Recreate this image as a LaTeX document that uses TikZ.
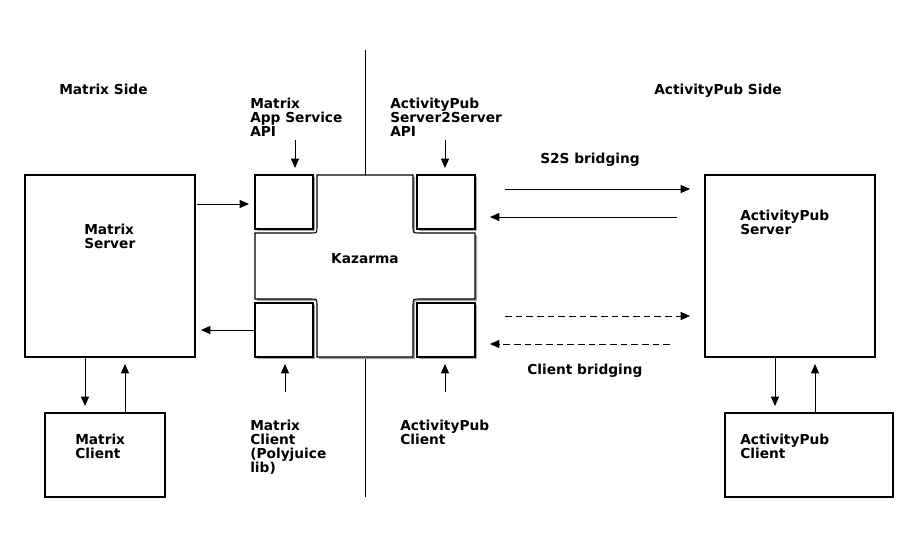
\documentclass[tikz,border=0pt]{standalone}
\usepackage{fontspec}
\setmainfont{DejaVu Sans}
\usetikzlibrary{arrows.meta}
\begin{document}
\begin{tikzpicture}[x=0.75pt,y=-0.75pt,
  box/.style={draw,fill=white,line width=0.8pt},
  arr/.style={-{Triangle[length=7pt,width=6pt]},line width=0.7pt},
  txt/.style={font=\fontsize{10.3}{10.5}\selectfont\bfseries,align=left,inner sep=0pt}]
\useasboundingbox (0,0) rectangle (900,546);
\fill[white] (0,0) rectangle (900,546);
\draw[line width=0.7pt] (365,50) -- (365,497);
% boxes
\draw[box] (25,175) rectangle (195,357);
\draw[box] (45,413) rectangle (165,497);
\draw[box] (705,175) rectangle (875,357);
\draw[box] (725,413) rectangle (893,497);
% cross
\def\crosspath{(317,175) -- (413,175) -- (413,227) .. controls (413,233) .. (419,233) -- (475,233) -- (475,299) -- (419,299) .. controls (413,299) .. (413,305) -- (413,357) -- (317,357) -- (317,305) .. controls (317,299) .. (311,299) -- (255,299) -- (255,233) -- (311,233) .. controls (317,233) .. (317,227) -- cycle}
\fill[gray!70,shift={(2,2)}] \crosspath;
\draw[box] \crosspath;
\foreach \x/\y in {255/175,417/175,255/303,417/303}{
  \fill[gray!70] (\x+2,\y+2) rectangle (\x+60,\y+56);
  \draw[box] (\x,\y) rectangle (\x+58,\y+54);}
\node[txt] (kaz) at (365,259) {Kazarma};
% labels
\node[txt,anchor=north west] (ms) at (59,84) {Matrix Side};
\node[txt,anchor=north west] (as) at (654,84) {ActivityPub Side};
\node[txt,anchor=north west] (mapi) at (250,98) {Matrix\\App Service\\API};
\node[txt,anchor=north west] (aapi) at (390,98) {ActivityPub\\Server2Server\\API};
\node[txt,anchor=north west] (s2s) at (540,153) {S2S bridging};
\node[txt,anchor=north west] (cb) at (527,364) {Client bridging};
\node[txt,anchor=north west] (mcl) at (250,420) {Matrix\\Client\\(Polyjuice\\lib)};
\node[txt,anchor=north west] (acl) at (400,420) {ActivityPub\\Client};
\node[txt,anchor=north west] (msrv) at (84,224) {Matrix\\Server};
\node[txt,anchor=north west] (asrv) at (740,210) {ActivityPub\\Server};
\node[txt,anchor=north west] (mc) at (75,434) {Matrix\\Client};
\node[txt,anchor=north west] (ac) at (740,434) {ActivityPub\\Client};
% arrows
\draw[arr] (197,204) -- (249,204);
\draw[arr] (255,330) -- (201,330);
\draw[arr] (85,357) -- (85,406);
\draw[arr] (125,413) -- (125,364);
\draw[arr] (775,357) -- (775,406);
\draw[arr] (815,413) -- (815,364);
\draw[arr] (505,189) -- (690,189);
\draw[arr] (677,217) -- (490,217);
\draw[arr,dash pattern=on 5pt off 3pt] (505,316) -- (690,316);
\draw[arr,dash pattern=on 5pt off 3pt] (670,344) -- (490,344);
\draw[arr] (295,140) -- (295,168);
\draw[arr] (445,140) -- (445,168);
\draw[arr] (285,392) -- (285,364);
\draw[arr] (445,392) -- (445,364);
\end{tikzpicture}
\end{document}
